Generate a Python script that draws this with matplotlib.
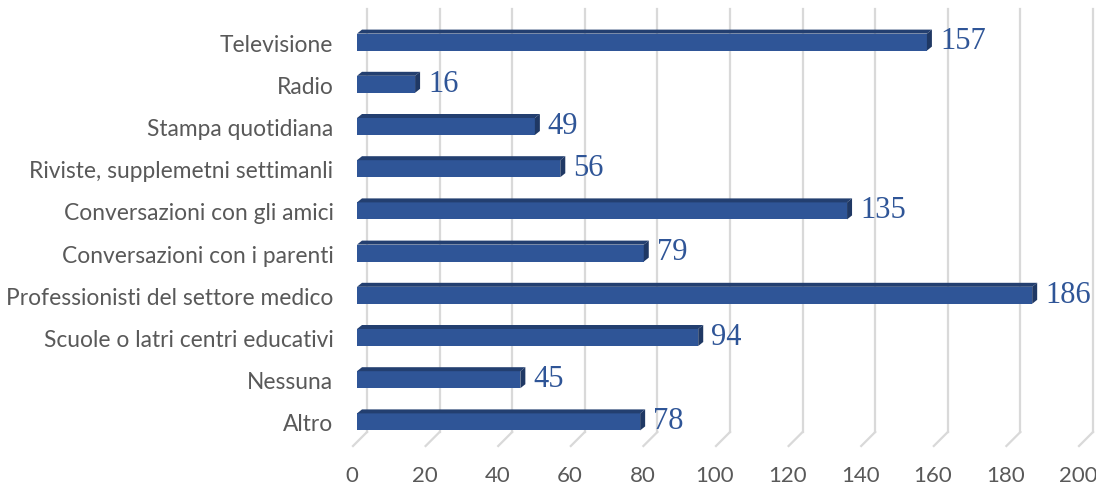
import numpy as np
import matplotlib.pyplot as plt
from matplotlib.patches import Polygon
from matplotlib.transforms import ScaledTranslation

# survey answers: where people get their information from
categorie = ['Televisione', 'Radio', 'Stampa quotidiana', 'Riviste, supplemetni settimanli',
             'Conversazioni con gli amici', 'Conversazioni con i parenti',
             'Professionisti del settore medico', 'Scuole o latri centri educativi',
             'Nessuna', 'Altro']
valori = [157, 16, 49, 56, 135, 79, 186, 94, 45, 78]
ticks_x = [0, 20, 40, 60, 80, 100, 120, 140, 160, 180, 200]

W, H = 1096, 485
fig = plt.figure(figsize=(W / 100, H / 100), dpi=100)
# plot area in pixels: x 357..1083, y 22..444
ax = fig.add_axes([357 / W, 1 - 444 / H, 726 / W, 422 / H])
ax.set_xlim(0, 200)
ax.set_ylim(len(categorie) - 0.5, -0.5)
for s in ax.spines.values():
    s.set_visible(False)

sx = 726 / 200.0               # pixels per unit on x
sy = 422 / len(categorie)      # pixels per category
fy = lambda p: (444 - p) / 422  # pixel row -> axes fraction

def shift(dx, dy):
    return ScaledTranslation(dx / 100, dy / 100, fig.dpi_scale_trans)

# back wall + slanted floor lines, like the 3d excel chart
grid_col = '#D9D9D9'
xt = ax.get_xaxis_transform()
for v in ticks_x:
    xb = v + 10 / sx
    ax.plot([xb, xb], [fy(433), fy(10)], color=grid_col, lw=1.6,
            transform=xt, clip_on=False, zorder=0)
    ax.plot([xb, v - 4 / sx], [fy(433), fy(447)], color=grid_col, lw=1.6,
            transform=xt, clip_on=False, zorder=0)

# bar depth in data units
ddx, ddy = 5 / sx, 4 / sy
h = 17 / sy

front = '#2F5597'
top = '#233F70'
side = '#1F3864'

y = np.arange(len(categorie))
yc = y + 0.0
ax.barh(yc, valori, height=h, color=front, zorder=3)
for yi, v in zip(yc, valori):
    t = yi - h / 2
    b = yi + h / 2
    ax.add_patch(Polygon([[0, t], [ddx, t - ddy], [v + ddx, t - ddy], [v, t]],
                         closed=True, color=top, zorder=3, lw=0))
    ax.add_patch(Polygon([[v, t], [v + ddx, t - ddy], [v + ddx, b - ddy], [v, b]],
                         closed=True, color=side, zorder=3, lw=0))
    ax.text(v, yi - 0.03, str(v), transform=ax.transData + shift(13, 0),
            ha='left', va='center', fontsize=22, color=front,
            family='Liberation Serif')

ax.set_yticks(y)
ax.set_yticklabels(categorie, fontsize=16.4, color='#595959', family='Lato')
ax.tick_params(axis='y', length=0, pad=17)
ax.set_xticks(ticks_x)
ax.set_xticklabels([str(v) for v in ticks_x], fontsize=16, color='#595959', family='Lato')
ax.tick_params(axis='x', length=0, pad=16)
for lab in ax.get_xticklabels():
    lab.set_transform(lab.get_transform() + shift(-5, 0))

fig.savefig('out.png', dpi=100)
